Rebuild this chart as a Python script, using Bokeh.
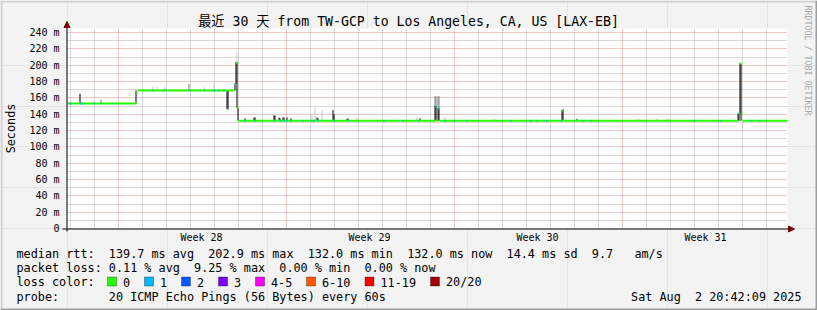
import math
from bokeh.plotting import figure
from bokeh.models import (Range1d, FixedTicker, Label, Arrow, NormalHead,
                          BoxAnnotation, ColumnDataSource, LinearAxis, Grid)
from bokeh.embed import file_html
from bokeh.resources import INLINE

# ---------------- data ----------------
# x: hours since the start of the 30-day window, y: milliseconds
window_hours = 720
first_midnight = 2
week_starts = [50, 218, 386, 554]
week_labels = ["Week 28", "Week 29", "Week 30", "Week 31"]

y_max = 245
y_ticks = [0, 20, 40, 60, 80, 100, 120, 140, 160, 180, 200, 220, 240]
y_minor = [10, 30, 50, 70, 90, 110, 130, 150, 170, 190, 210, 230]

# median RTT as runs: run i covers [median_start[i], next start)
median_start = [0, 69, 70, 160, 161, 167, 168, 170, 171, 368, 369, 371, 372,
                495, 496, 671, 672, 674, 675]
median_ms = [153, 166, 169, 146, 169, 177, 203, 148, 132, 150, 132, 147, 132,
             144, 132, 141, 202, 141, 132]

# hours in which 1 of 20 pings was lost
loss1_hours = [2, 3, 13, 14, 15, 26, 33, 44, 85, 96, 122, 137, 145, 147, 150,
               156, 167, 177, 187, 206, 213, 216, 219, 223, 235, 244, 246, 250,
               266, 280, 316, 335, 351, 368, 371, 377, 386, 399, 443, 463, 469,
               476, 479, 494, 516, 523, 626, 653, 671, 683, 692]

# smoke (ping spread) bars: hour, low, high, density (0 light, 1 mid, 2 dark)
smoke_hour = [12, 26, 33, 68, 85, 89, 97, 121, 136, 146, 159, 160, 167, 168,
              169, 169, 170, 177, 186, 187, 206, 207, 211, 212, 215, 216, 219,
              223, 244, 247, 249, 250, 254, 265, 266, 279, 280, 289, 349, 352,
              367, 368, 367, 368, 370, 371, 370, 371, 377, 426, 494, 495, 509,
              570, 578, 589, 598, 601, 670, 671, 672, 673]
smoke_low = [153, 153, 153, 153, 169, 169, 169, 169, 169, 169, 146, 146, 169,
             177, 148, 204, 132, 132, 132, 132, 132, 132, 132, 132, 132, 132,
             132, 132, 132, 132, 132, 132, 132, 132, 132, 132, 132, 132, 132,
             132, 132, 132, 150, 150, 132, 132, 148, 148, 132, 132, 132, 132,
             132, 132, 132, 132, 132, 132, 132, 132, 141, 132]
smoke_high = [165, 156, 158, 169, 174, 174, 173, 177, 173, 178, 169, 169, 177,
              204, 204, 216, 148, 135, 136, 136, 139, 138, 136, 135, 136, 136,
              136, 135, 139, 148, 136, 135, 145, 145, 140, 134, 135, 136, 137,
              135, 150, 150, 162, 162, 148, 148, 162, 162, 137, 134, 145, 146,
              134, 134, 134, 134, 134, 134, 141, 141, 202, 202]
smoke_level = [2, 0, 1, 2, 0, 0, 0, 1, 0, 0, 2, 2, 2,
               2, 2, 0, 2, 2, 2, 2, 2, 2, 2, 2, 2, 2,
               2, 2, 0, 0, 2, 2, 0, 2, 2, 2, 2, 0, 0,
               2, 2, 2, 1, 1, 2, 2, 1, 1, 0, 0, 2, 2,
               2, 0, 0, 0, 0, 0, 2, 2, 2, 2]

title_text = "最近 30 天 from TW-GCP to Los Angeles, CA, US [LAX-EB]"
rtt_line = "median rtt:  139.7 ms avg  202.9 ms max  132.0 ms min  132.0 ms now  14.4 ms sd  9.7   am/s"
loss_line = "packet loss: 0.11 % avg  9.25 % max  0.00 % min  0.00 % now"
probe_line = "probe:       20 ICMP Echo Pings (56 Bytes) every 60s"
date_text = "Sat Aug  2 20:42:09 2025"
loss_names = ["0", "1", "2", "3", "4-5", "6-10", "11-19", "20/20"]
loss_colors = ["#26ff00", "#00b8ff", "#0059ff", "#7e00ff", "#ff00ff",
               "#ff5500", "#ff0000", "#a10000"]

# ---------------- styling / layout ----------------
MONO = "DejaVu Sans Mono"
BACK = "#f3f3f3"
GRID = "#b0b0b0"
MGRID = "#e08c8c"
ARROW = "#800000"
smoke_palette = ["#c4c4c4", "#808080", "#000000"]

W, H = 817, 310
FL, FR, FT, FB = 67, 787, 28, 228        # data area in canvas pixels
hours_per_px = window_hours / (FR - FL)
ms_per_px = y_max / (FB - FT)

# the frame fills the whole canvas; the data area is a sub-rectangle of it
p = figure(width=W, height=H,
           x_range=Range1d(-FL * hours_per_px, window_hours + (W - FR) * hours_per_px),
           y_range=Range1d(-(H - FB) * ms_per_px, y_max + FT * ms_per_px),
           output_backend="svg", toolbar_location=None, title=None,
           x_axis_location=None, y_axis_location=None,
           min_border=0, min_border_left=0, min_border_right=0,
           min_border_top=0, min_border_bottom=0,
           background_fill_color=BACK, border_fill_color=BACK,
           outline_line_color=None)
# canvas-pixel coordinates (y from the top) for decorations
p.extra_x_ranges = {"cx": Range1d(0, W)}
p.extra_y_ranges = {"cy": Range1d(H, 0)}

# white plotting canvas
p.add_layout(BoxAnnotation(left=0, right=window_hours, bottom=0, top=y_max,
                           fill_color="#ffffff", fill_alpha=1, line_color=None,
                           level="underlay"))

# ---- grids ----
day_ticks = list(range(first_midnight, window_hours, 24))
minor_days = [d for d in day_ticks if d not in week_starts]
half = 0.5 * hours_per_px       # put 1px lines on a pixel column
xg_major = [w + half for w in week_starts]
xg_minor = [d + half for d in minor_days]

if "cross_bounds" in Grid.properties():
    p.add_layout(Grid(dimension=0, ticker=FixedTicker(ticks=xg_major, minor_ticks=xg_minor),
                      bounds=(0, window_hours), cross_bounds=(0, y_max),
                      grid_line_color=MGRID, grid_line_dash="1 1",
                      minor_grid_line_color=GRID, minor_grid_line_dash="1 1"))
    p.add_layout(Grid(dimension=1, ticker=FixedTicker(ticks=y_ticks[1:], minor_ticks=y_minor),
                      bounds=(0, y_max), cross_bounds=(0, window_hours),
                      grid_line_color=MGRID, grid_line_dash="1 1",
                      minor_grid_line_color=GRID, minor_grid_line_dash="1 1"))
else:
    for xs, col in [(xg_minor, GRID), (xg_major, MGRID)]:
        p.segment(x0=xs, x1=xs, y0=0, y1=y_max, line_color=col,
                  line_dash="1 1", level="underlay")
    for ys, col in [(y_minor, GRID), (y_ticks[1:], MGRID)]:
        p.segment(x0=0, x1=window_hours, y0=ys, y1=ys, line_color=col,
                  line_dash="1 1", level="underlay")

# ---- axes (drawn at fixed data locations inside the canvas) ----
week_centers = [w + 84 for w in week_starts]
xa = LinearAxis(fixed_location=0, bounds=(0, window_hours),
                ticker=FixedTicker(ticks=week_centers, minor_ticks=[]),
                major_label_overrides={c: lab for c, lab in zip(week_centers, week_labels)},
                major_tick_out=0, major_tick_in=0, minor_tick_out=0, minor_tick_in=0,
                axis_line_color=None,
                major_label_standoff=3, major_label_text_font=MONO,
                major_label_text_font_size="10px", major_label_text_color="#000000")
p.add_layout(xa, "below")
ya = LinearAxis(fixed_location=0, bounds=(0, y_max),
                ticker=FixedTicker(ticks=y_ticks, minor_ticks=[]),
                major_label_overrides={t: (f"{t} m" if t else "0") for t in y_ticks},
                major_tick_out=0, major_tick_in=0, minor_tick_out=0, minor_tick_in=0,
                axis_line_color=None, major_label_standoff=8,
                major_label_text_font=MONO, major_label_text_font_size="10px",
                major_label_text_color="#000000")
p.add_layout(ya, "left")

# ---- smoke ----
smoke = ColumnDataSource(dict(
    left=smoke_hour, right=[h + 1 for h in smoke_hour],
    bottom=smoke_low, top=smoke_high,
    color=[smoke_palette[l] for l in smoke_level]))
p.quad(left="left", right="right", bottom="bottom", top="top",
       fill_color="color", line_color=None, source=smoke)

# ---- median line coloured by loss ----
median_end = median_start[1:] + [window_hours]
p.segment(x0=median_start, x1=median_end, y0=median_ms, y1=median_ms,
          line_color=loss_colors[0], line_width=2)


def median_at(h):
    for s, e, v in zip(median_start, median_end, median_ms):
        if s <= h < e:
            return v
    return median_ms[-1]


loss_vals = [median_at(h) for h in loss1_hours]
p.segment(x0=loss1_hours, x1=[h + 1 for h in loss1_hours], y0=loss_vals,
          y1=loss_vals, line_color=loss_colors[1], line_width=2)

# ---- axis lines with arrows (canvas pixels) ----
p.add_layout(Arrow(x_start=FL - 5, y_start=FB + 0.5, x_end=FR + 7, y_end=FB + 0.5,
                   line_color="#000000", line_width=1,
                   end=NormalHead(size=6, fill_color=ARROW, line_color=ARROW),
                   x_range_name="cx", y_range_name="cy"))
p.add_layout(Arrow(x_start=FL - 0.5, y_start=FB + 3, x_end=FL - 0.5, y_end=FT - 7,
                   line_color="#000000", line_width=1,
                   end=NormalHead(size=6, fill_color=ARROW, line_color=ARROW),
                   x_range_name="cx", y_range_name="cy"))


def label(x, y, text, size, **kw):
    p.add_layout(Label(x=x, y=y, text=text.replace(" ", "\u00a0"),
                       text_font=kw.pop("font", MONO), text_font_size=size,
                       x_units="canvas", y_units="canvas",
                       text_color=kw.pop("color", "#000000"),
                       text_baseline=kw.pop("baseline", "middle"), **kw))


label(408, 21, title_text, "13.2px", text_align="center",
      font=MONO + ", Noto Sans CJK SC")
label(10, (FT + FB) / 2, "Seconds", "11.8px", text_align="center",
      angle=math.pi / 2)
label(807, 5, "RRDTOOL / TOBI OETIKER", "8.3px", text_align="left",
      angle=-math.pi / 2, color="#a8a8a8")

ROW = [253.5, 267.5, 281.5, 296]
label(16, ROW[0], rtt_line, "11.8px")
label(16, ROW[1], loss_line, "11.8px")
label(16, ROW[2], "loss color:", "11.8px")
label(16, ROW[3], probe_line, "11.8px")
label(801, ROW[3], date_text, "11.8px", text_align="right")


def cbox(l, r, t, b, fill, line=None):
    p.add_layout(BoxAnnotation(left=l, right=r, top=t, bottom=b,
                               left_units="canvas", right_units="canvas",
                               top_units="canvas", bottom_units="canvas",
                               fill_color=fill, fill_alpha=1,
                               line_color=line, line_width=1))


swatch_x = [107, 144, 181, 218, 255, 306, 364.5, 430]
for sx, name, col in zip(swatch_x, loss_names, loss_colors):
    cbox(sx, sx + 9, ROW[2] - 5, ROW[2] + 4, col, "#000000")
    label(sx + 15.5, ROW[2], name, "11.8px")

# ---- 3D-ish frame border ----
for l, r, t, b, c in [(0, W, 0, 2, "#cfcfcf"), (0, 2, 0, H, "#cfcfcf"),
                      (W - 2, W, 0, H, "#9e9e9e"), (0, W, H - 2, H, "#9e9e9e")]:
    cbox(l, r, t, b, c)

open("out.html", "w").write(file_html(p, INLINE))
